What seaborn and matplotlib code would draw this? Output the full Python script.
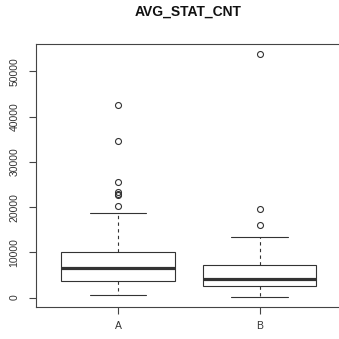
import pandas as pd
import matplotlib
matplotlib.use("Agg")
import matplotlib.pyplot as plt
import seaborn as sns

group_a = [500, 1200, 1800, 2300, 2700, 3000, 3300, 3500,
           3660,
           4000, 4500, 5000, 5400, 5800, 6100, 6400,
           6620,
           7000, 7500, 8000, 8500, 9000, 9400, 9800,
           10070,
           18600,
           20300, 22700, 23000, 23300, 25600, 34600, 42700]
group_b = [130, 600, 1000, 1400, 1700, 2000, 2200, 2400,
           2560,
           2800, 3000, 3200, 3400, 3600, 3800, 4000,
           4190,
           4500, 4900, 5300, 5700, 6100, 6500, 6800,
           7130,
           8000, 9000, 10000, 11500, 13380,
           16030, 19650, 53930]
groups = ["A", "B"]
y_ticks = [0, 10000, 20000, 30000, 40000, 50000]

df = pd.DataFrame({
    "group": ["A"] * len(group_a) + ["B"] * len(group_b),
    "value": group_a + group_b,
})

sns.set_theme(style="white")
plt.rcParams["font.family"] = ["Liberation Sans", "DejaVu Sans"]

fig = plt.figure(figsize=(3.39, 3.39), dpi=100)
ax = fig.add_axes([36 / 339, 32.3 / 339, 305.8 / 339, 262.7 / 339])

line_col = "#333333"
sns.boxplot(
    data=df, x="group", y="value", order=groups,
    color="white", linecolor=line_col, linewidth=0.8, width=0.8, whis=1.5,
    fliersize=4.3,
    flierprops=dict(marker="o", markerfacecolor="none",
                    markeredgecolor=line_col, markeredgewidth=0.8),
    medianprops=dict(linewidth=2.3, color=line_col),
    whiskerprops=dict(linestyle=(0, (3, 3))),
    ax=ax,
)

# R-like extended limits
ax.set_xlim(-0.58, 1.58)
ax.set_ylim(-2022, 56082)
ax.set_yticks(y_ticks)
ax.set_yticklabels([str(t) for t in y_ticks], rotation=90, va="center")
ax.set_xlabel("")
ax.set_ylabel("")

for s in ax.spines.values():
    s.set_visible(True)
    s.set_color("#444444")
    s.set_linewidth(0.8)
ax.tick_params(axis="both", direction="out", length=5, width=0.8,
               color="#444444", labelsize=7.5, labelcolor="#333333")
ax.tick_params(axis="y", pad=7, left=True)
ax.tick_params(axis="x", pad=5, bottom=True)

fig.text(188 / 339, 1 - 12 / 339, "AVG_STAT_CNT", ha="center", va="center",
         fontsize=10, fontweight="bold", color="#111111")

fig.savefig("out.png", dpi=100)
